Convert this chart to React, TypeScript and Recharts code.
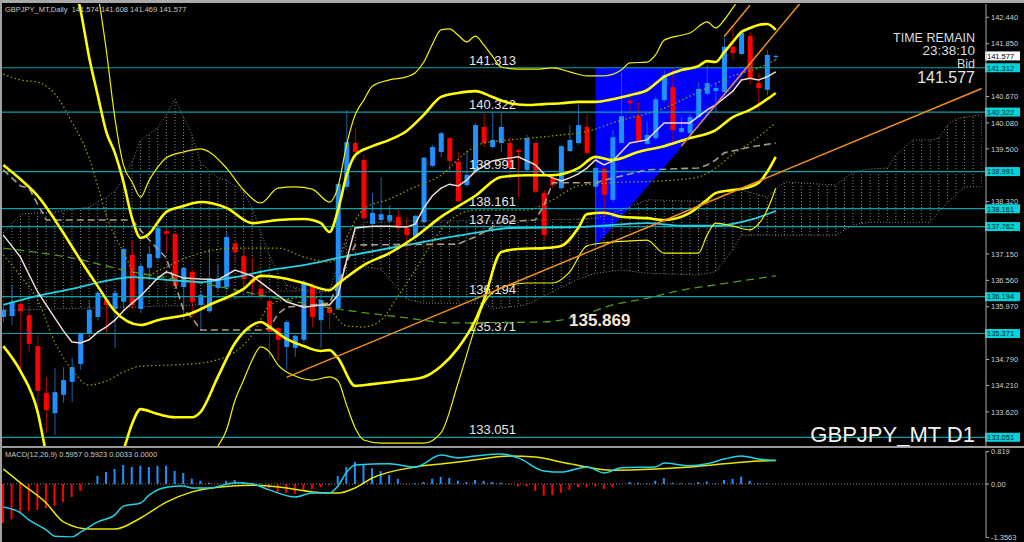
import React from 'react';
import { ComposedChart, Bar, Line, Area, XAxis, YAxis, ReferenceLine, Cell } from 'recharts';

// ---------------- data ----------------
const priceOpen = [135.74,135.76,136.03,135.78,135.09,134.04,133.59,134.00,134.29,134.69,
135.36,135.74,136.12,135.92,136.08,137.13,135.92,136.84,137.06,137.66,
137.60,136.41,136.75,136.01,135.87,136.39,136.41,137.39,137.10,136.57,
136.37,136.10,135.49,135.07,135.05,135.23,136.41,135.67,135.96,135.94,
138.65,139.63,139.25,137.82,137.91,137.89,137.98,137.73,137.53,137.86,
139.12,139.43,139.74,139.21,138.69,138.98,139.99,139.54,139.63,139.63,
139.47,139.03,139.63,138.51,138.85,138.62,139.45,139.63,139.99,138.65,
139.05,138.36,139.63,140.57,140.23,139.61,139.74,140.59,140.88,139.88,
139.85,140.21,140.73,140.79,140.77,141.78,141.62,142.02,140.97,140.82,141.574];
const priceHigh = [135.96,136.46,136.12,135.96,135.34,134.40,134.60,134.62,134.82,135.40,
136.12,136.30,136.19,136.34,137.28,137.46,136.95,137.31,137.75,137.69,
137.62,136.86,136.79,136.34,137.24,136.90,137.64,137.46,137.26,137.06,
136.63,136.19,135.52,135.67,135.34,136.57,136.50,136.28,136.05,138.74,
140.37,139.96,139.36,138.51,138.87,138.24,138.18,137.98,138.02,139.32,
139.59,139.88,139.76,139.43,139.47,140.08,140.30,140.30,140.30,139.76,
139.50,139.81,139.65,138.58,138.92,139.59,140.03,140.48,140.30,139.09,
139.07,139.92,141.20,140.66,140.55,140.10,140.66,141.26,141.31,140.21,
140.26,140.99,141.37,140.99,142.00,142.22,142.16,142.11,141.20,141.71,141.608];
const priceLow = [135.63,135.56,134.56,134.94,133.51,133.15,133.10,133.82,133.84,134.56,
135.29,135.67,135.38,135.05,135.90,135.90,135.83,136.68,137.01,137.19,
136.41,135.67,135.74,135.45,135.83,136.34,136.34,136.95,136.34,136.28,
136.12,134.85,134.78,134.56,134.85,135.16,135.52,135.05,135.45,135.90,
138.58,139.25,137.91,137.80,137.86,137.86,137.69,137.24,137.51,137.84,
139.09,139.32,138.98,138.31,138.65,138.96,139.54,139.52,139.43,138.80,
138.42,138.98,138.51,137.46,138.62,138.58,139.43,139.59,139.36,137.31,
137.98,138.31,139.63,140.30,139.63,139.59,139.70,140.55,139.65,139.85,
139.81,140.19,140.70,140.30,140.75,141.49,141.60,140.93,140.37,140.70,141.469];
const priceClose = [135.90,136.08,135.87,135.14,134.09,133.66,134.06,134.33,134.62,135.38,
135.90,136.28,136.01,136.28,137.26,136.01,136.88,137.15,137.73,137.60,
136.43,136.84,136.08,136.23,136.61,136.61,137.53,137.19,136.59,136.50,
136.19,135.41,135.23,135.63,135.32,136.50,135.74,136.12,135.83,138.71,
139.65,139.43,137.95,138.07,138.04,138.02,137.73,137.57,138.00,139.30,
139.54,139.85,139.23,138.33,138.92,140.03,139.63,139.70,139.99,139.07,
139.43,139.74,138.54,137.57,138.69,139.56,139.70,140.03,139.41,139.07,
138.47,139.76,140.23,140.52,139.68,139.81,140.61,141.15,139.92,139.97,
140.21,140.84,140.97,140.86,141.78,141.64,142.09,141.08,140.86,141.60,141.577];

// Bollinger-type bands, read as [bar index, price]
const bbMid = [[0,139.14],[2,138.82],[4,138.45],[7,137.62],[9,137.01],[11,136.43],[13,135.87],[16,135.56],[18,135.67],[22,135.83],[24,136.01],[28,136.37],[30,136.66],[32,136.63],[35,136.50],[38,136.34],[39,136.48],[40,136.63],[42,136.90],[45,137.17],[48,137.53],[51,137.98],[55,138.45],[58,138.87],[61,138.91],[64,138.91],[67,139.07],[69,139.32],[71,139.25],[74,139.43],[77,139.56],[80,139.74],[83,139.92],[85,140.21],[87,140.37],[89,140.61],[90,140.75]];
const bbUp3 = [[10,144.17],[11,143.01],[12,141.71],[13,140.19],[14,139.14],[15,138.76],[16,138.42],[17,138.80],[18,139.09],[19,139.30],[21,139.43],[23,139.50],[24,139.43],[26,139.07],[28,138.58],[30,138.29],[32,138.62],[34,138.65],[36,138.60],[38,138.31],[39,138.65],[40,139.59],[41,140.26],[42,140.59],[43,140.90],[45,141.04],[47,141.11],[48,141.20],[49,141.44],[50,141.84],[51,142.16],[52,142.18],[53,142.04],[54,141.89],[55,142.02],[56,141.82],[57,141.57],[58,141.33],[60,141.28],[62,141.28],[64,141.31],[66,141.22],[68,141.13],[70,141.13],[72,141.26],[73,141.42],[75,141.44],[76,141.60],[77,141.93],[79,142.04],[80,142.09],[82,142.34],[83,142.20],[84,142.38],[85,142.65],[86,142.94]];
const bbUp2 = [[8,143.39],[9,142.60],[10,141.55],[11,140.70],[12,139.88],[13,139.41],[14,138.76],[15,137.95],[16,137.51],[17,137.60],[18,137.86],[19,138.09],[21,138.22],[23,138.31],[26,138.18],[29,137.84],[32,137.91],[35,137.93],[37,137.84],[38,137.64],[39,138.13],[40,138.91],[41,139.36],[43,139.56],[45,139.70],[47,139.90],[49,140.26],[51,140.66],[53,140.75],[55,140.79],[57,140.66],[59,140.52],[61,140.48],[63,140.50],[65,140.52],[67,140.55],[69,140.55],[71,140.61],[73,140.70],[75,140.81],[77,141.11],[79,141.26],[81,141.35],[82,141.46],[83,141.44],[84,141.66],[85,141.89],[86,142.11],[87,142.20],[88,142.27],[89,142.29],[90,142.16]];
const bbLow2 = [[0,135.09],[2,134.53],[4,133.62],[5,132.70],[7,131.70],[9,131.40],[11,132.20],[13,132.40],[14,132.77],[15,133.35],[16,133.68],[18,133.57],[20,133.50],[22,133.50],[23,133.62],[25,134.40],[27,135.16],[29,135.56],[30,135.63],[31,135.52],[33,135.25],[35,135.09],[37,134.98],[38,135.00],[39,134.82],[41,134.20],[43,134.24],[46,134.31],[49,134.40],[51,134.64],[53,135.05],[55,135.67],[56,136.12],[58,137.19],[60,137.26],[63,137.28],[65,137.33],[67,137.73],[68,138.04],[70,138.07],[72,137.98],[75,137.95],[77,137.91],[80,138.07],[82,138.36],[83,138.51],[85,138.58],[87,138.65],[88,138.74],[89,138.98],[90,139.32]];
const bbLow3 = [[16,132.72],[20,132.14],[23,132.30],[25,132.85],[26,133.21],[27,133.88],[28,134.33],[29,134.78],[30,135.07],[31,134.96],[32,134.67],[34,134.42],[36,134.33],[38,134.40],[39,134.31],[40,133.77],[41,133.26],[42,132.99],[44,132.92],[47,132.92],[49,132.92],[51,133.15],[53,134.27],[55,135.52],[56,136.05],[58,136.39],[61,136.50],[64,136.50],[66,136.75],[68,137.33],[70,137.40],[73,137.44],[75,137.46],[77,137.17],[81,137.17],[82,137.57],[83,137.84],[85,137.77],[87,137.69],[88,137.82],[89,138.13],[90,138.62]];
const bbUp1 = [[0,141.17],[2,141.04],[4,140.99],[6,140.73],[8,140.10],[10,139.30],[11,138.67],[12,138.02],[14,137.19],[16,136.59],[18,136.77],[21,137.04],[24,137.22],[27,137.28],[32,137.28],[35,137.08],[38,136.97],[39,137.06],[40,137.51],[42,138.15],[45,138.38],[48,138.65],[51,138.91],[54,139.43],[56,139.63],[59,139.70],[64,139.79],[69,139.94],[71,140.08],[77,140.41],[81,140.77],[85,141.13],[88,141.31],[90,141.49]];
const bbLow1 = [[0,137.13],[2,136.66],[4,136.12],[6,135.18],[8,134.56],[10,134.22],[12,134.31],[14,134.51],[16,134.64],[20,134.67],[23,134.71],[27,134.96],[29,135.34],[31,135.99],[33,136.14],[36,136.19],[38,135.92],[40,135.54],[42,135.52],[44,135.67],[46,136.21],[48,136.79],[50,137.42],[52,137.89],[55,138.13],[61,138.13],[64,138.36],[67,138.67],[71,138.74],[78,138.80],[81,138.87],[83,139.07],[85,139.38],[87,139.63],[90,140.08]];

// Ichimoku-style lines
const tenkan = [[0,137.57],[2,137.08],[4,136.30],[6,135.72],[7,135.43],[8,135.18],[9,135.16],[10,135.23],[11,135.40],[12,135.52],[13,135.67],[14,135.88],[15,136.05],[16,136.21],[18,136.61],[19,136.75],[21,136.61],[23,136.59],[25,136.57],[27,136.79],[29,136.66],[31,136.37],[33,136.08],[35,135.96],[37,136.01],[38,136.01],[39,136.23],[40,137.01],[41,137.73],[43,137.77],[45,137.77],[47,137.75],[48,137.82],[49,138.18],[50,138.45],[51,138.62],[52,138.71],[53,138.67],[54,138.80],[55,139.00],[56,139.12],[57,139.23],[58,139.27],[60,139.32],[62,139.14],[63,138.94],[64,138.85],[65,138.78],[66,138.85],[67,138.94],[68,139.07],[69,139.25],[70,139.14],[71,139.23],[72,139.43],[73,139.63],[75,139.70],[77,140.08],[79,140.08],[80,140.08],[82,140.37],[83,140.48],[85,140.79],[86,141.04],[87,141.08],[88,141.04],[89,141.11],[90,141.22]];
const kijun = [[0,139.03],[2,138.67],[3,138.62],[5,137.91],[15,137.91],[16,137.68],[17,137.46],[19,137.06],[21,135.90],[22,135.72],[23,135.45],[30,135.45],[31,135.49],[32,135.81],[33,135.96],[38,136.05],[39,136.46],[40,136.97],[41,137.35],[53,137.37],[54,137.46],[55,137.53],[56,137.64],[57,137.75],[58,137.86],[62,137.91],[63,138.24],[64,138.74],[69,138.74],[70,138.80],[75,139.03],[81,139.07],[82,139.14],[83,139.25],[84,139.41],[87,139.54],[90,139.63]];
const maCyan = [[0,136.01],[4,136.21],[8,136.37],[12,136.55],[15,136.63],[19,136.57],[23,136.52],[27,136.63],[31,136.79],[35,136.90],[39,137.06],[47,137.35],[55,137.62],[59,137.73],[67,137.75],[75,137.84],[79,137.78],[83,137.78],[87,137.91],[90,138.11]];
const maGreen = [[0,137.28],[8,137.06],[15,136.75],[23,136.50],[31,136.19],[39,135.92],[47,135.72],[52,135.61],[63,135.63],[67,135.76],[71,136.01],[75,136.16],[79,136.34],[83,136.46],[90,136.66]];
// cloud: [bar index, span A, span B]
const cloudSpans = [[0,137.62,135.90],[2,138.04,135.90],[6,138.09,135.92],[10,138.20,135.94],[12,138.42,135.94],[13,138.54,135.96],[15,139.21,135.96],[16,139.70,135.96],[18,139.97,135.99],[19,140.26,135.99],[20,140.61,135.99],[21,140.21,135.99],[22,139.81,136.01],[23,139.18,136.01],[25,138.85,136.08],[26,138.80,136.12],[28,138.54,136.19],[29,138.18,136.23],[30,137.64,136.30],[31,137.13,136.30],[32,136.73,136.32],[33,136.46,136.32],[36,136.28,136.34],[38,136.32,136.34],[40,136.61,137.42],[42,136.86,137.86],[44,136.81,137.86],[47,136.14,137.89],[49,136.05,137.89],[56,136.05,137.89],[57,135.92,137.89],[61,136.01,137.91],[63,136.21,137.91],[67,136.59,137.93],[69,136.72,137.95],[72,136.79,138.13],[75,136.72,138.36],[81,136.68,138.33],[83,136.75,138.36],[85,137.24,138.56],[86,137.57,138.58],[88,137.57,138.47],[89,137.57,138.42],[91,137.57,138.76],[97,137.57,138.69],[99,137.80,138.98],[101,137.86,139.05],[103,137.86,139.07],[104,137.86,139.36],[106,137.86,139.70],[108,137.86,139.70],[109,138.09,139.74],[110,138.29,140.03],[111,138.47,140.17],[112,138.65,140.21],[114,138.65,140.26]];

const levelValues = [141.313, 140.322, 138.991, 138.161, 137.762, 136.194, 135.371, 133.051];
const levelTexts = ['141.313', '140.322', '138.991', '138.161', '137.762', '136.194', '135.371', '133.051'];
const levelAxisTexts = ['141.312', '140.322', '138.991', '138.161', '137.762', '136.194', '135.371', '133.051'];
const bidPrice = 141.577;
const markValue = 135.869;
const priceTicks = [142.44, 141.85, 140.67, 140.08, 139.5, 138.32, 137.15, 136.56, 135.97, 134.79, 134.21, 133.62];
const trendSegments = [
  [[33, 134.39], [114, 140.85]],
  [[79, 139.56], [93, 142.79]],
  [[84, 142.01], [87, 142.71]],
];
const triangleEdges = [[69, 137.31, 141.31], [87, 141.31, 141.31]];

const macdHist = [-0.99,-0.89,-0.73,-0.68,-0.66,-0.61,-0.56,-0.46,-0.33,-0.18,
0.02,0.20,0.30,0.38,0.48,0.43,0.46,0.43,0.46,0.46,
0.33,0.28,0.13,0.08,0.03,0.01,0.08,0.10,0.05,0.03,
0.01,-0.10,-0.20,-0.23,-0.25,-0.15,-0.13,-0.08,-0.03,0.20,
0.43,0.56,0.48,0.40,0.33,0.23,0.13,-0.02,0.02,0.05,
0.13,0.18,0.15,0.08,0.05,0.10,0.08,0.05,0.03,-0.02,
-0.06,-0.06,-0.17,-0.30,-0.28,-0.22,-0.15,-0.08,-0.08,-0.06,
-0.13,-0.08,0.0,0.05,0.03,0.02,0.08,0.15,0.03,0.02,
0.02,0.05,0.06,0.02,0.10,0.13,0.18,0.08,0.02,0.02,0.0033];
const macdMain = [[0,-0.58],[2,-0.73],[3,-0.91],[5,-1.16],[6,-1.32],[8,-1.34],[9,-1.22],[11,-0.96],[13,-0.78],[14,-0.56],[16,-0.48],[17,-0.28],[19,-0.08],[21,-0.05],[22,-0.10],[24,-0.10],[27,0.03],[29,0.00],[31,-0.15],[34,-0.33],[36,-0.23],[38,-0.23],[39,-0.05],[40,0.30],[41,0.48],[45,0.51],[48,0.43],[51,0.73],[53,0.66],[55,0.71],[58,0.76],[60,0.66],[63,0.33],[65,0.30],[68,0.43],[70,0.28],[72,0.41],[76,0.43],[77,0.53],[80,0.46],[82,0.51],[84,0.63],[86,0.71],[88,0.63],[90,0.5957]];
const macdSignal = [[0,0.38],[2,0.03],[5,-0.48],[7,-0.96],[10,-1.14],[13,-1.14],[16,-0.86],[19,-0.46],[22,-0.20],[25,-0.08],[29,-0.03],[33,-0.10],[36,-0.20],[39,-0.23],[41,-0.10],[43,0.15],[48,0.43],[52,0.53],[55,0.61],[59,0.71],[62,0.68],[66,0.51],[71,0.35],[76,0.38],[80,0.43],[84,0.51],[88,0.58],[90,0.5923]];
const macdTicks = [0.819, 0, -1.3563];
const macdTickTexts = ['0.819', '0.00', '-1.3563'];

// ---------------- layout ----------------
const N_SLOTS = 115;
const CHART_W = 1025;
const AXIS_W = 38;
const PLOT_W = CHART_W - AXIS_W;
const BAND = PLOT_W / N_SLOTS;
const SANS = "'Liberation Sans', Arial, sans-serif";
const PRICE_DOMAIN: [number, number] = [132.856, 142.738];
const MACD_DOMAIN: [number, number] = [-1.3563, 0.819];

function buildRows() {
  const rows: any[] = [];
  for (let k = 0; k < N_SLOTS; k++) rows.push({ i: k });
  priceOpen.forEach((o, k) => {
    rows[k].o = o;
    rows[k].h = priceHigh[k];
    rows[k].l = priceLow[k];
    rows[k].c = priceClose[k];
    rows[k].range = [priceLow[k], priceHigh[k]];
  });
  const put = (key: string, pts: number[][]) => pts.forEach(([k, v]) => { rows[k][key] = v; });
  put('mid', bbMid); put('up3', bbUp3); put('up2', bbUp2); put('low2', bbLow2); put('low3', bbLow3);
  put('up1', bbUp1); put('low1', bbLow1); put('tenkan', tenkan); put('kijun', kijun);
  put('maCyan', maCyan); put('maGreen', maGreen);
  cloudSpans.forEach(([k, a, b]) => {
    rows[k].spanA = a; rows[k].spanB = b; rows[k].cloud = [Math.min(a, b), Math.max(a, b)];
  });
  triangleEdges.forEach(([k, lo, hi]) => { rows[k].tri = [lo, hi]; });
  return rows;
}

function buildMacdRows() {
  const rows: any[] = [];
  for (let k = 0; k < N_SLOTS; k++) rows.push({ i: k });
  macdHist.forEach((v, k) => { rows[k].hist = v; });
  macdMain.forEach(([k, v]) => { rows[k].macd = v; });
  macdSignal.forEach(([k, v]) => { rows[k].signal = v; });
  return rows;
}

const rows = buildRows();
const macdRows = buildMacdRows();

function CandleShape(props: any) {
  const { x, y, width, height, payload } = props;
  if (!payload || payload.o == null || x == null) return null;
  const { o, h, l, c } = payload;
  const top = Math.min(y, y + height);
  const bot = Math.max(y, y + height);
  const span = h - l;
  const py = (v: number) => (span > 0 ? top + ((h - v) / span) * (bot - top) : top);
  const cx = x + width / 2;
  const up = c >= o;
  const bTop = py(Math.max(o, c));
  const bBot = py(Math.min(o, c));
  const bw = 5;
  return (
    <g>
      <line x1={cx} x2={cx} y1={top} y2={bot} stroke={up ? '#1d62b0' : '#b40000'} strokeWidth={1} />
      <rect x={cx - bw / 2} y={bTop} width={bw} height={Math.max(1, bBot - bTop)} fill={up ? '#1e90ff' : '#ff0000'} />
    </g>
  );
}

function PriceTick(props: any) {
  const { x, y, payload } = props;
  return (
    <g>
      <line x1={x} x2={x + 3} y1={y} y2={y} stroke="#b0b0b0" />
      <text x={x + 5} y={y + 2.7} fill="#cfcfcf" fontSize={7.5} fontFamily={SANS}>{Number(payload.value).toFixed(3)}</text>
    </g>
  );
}

function MacdTick(props: any) {
  const { x, y, payload, index } = props;
  const t = macdTickTexts[macdTicks.indexOf(payload.value)] ?? macdTickTexts[index] ?? '';
  return (
    <g>
      <line x1={x} x2={x + 3} y1={y} y2={y} stroke="#b0b0b0" />
      <text x={x + 5} y={y + 2.7} fill="#cfcfcf" fontSize={7.5} fontFamily={SANS}>{t}</text>
    </g>
  );
}

function LevelLabel(props: any) {
  const { viewBox, text, axisText } = props;
  if (!viewBox) return null;
  const y = viewBox.y;
  const right = viewBox.x + viewBox.width;
  return (
    <g>
      <text x={470} y={y - 3} fill="#e6e6e6" fontSize={13} fontFamily={SANS}>{text}</text>
      <rect x={right - 1} y={y - 4.5} width={35} height={9} fill="#00d3da" />
      <text x={right + 1} y={y + 2.8} fill="#00262b" fontSize={7.5} fontFamily={SANS}>{axisText}</text>
    </g>
  );
}

function BidLabel(props: any) {
  const { viewBox } = props;
  if (!viewBox) return null;
  const y = viewBox.y;
  const right = viewBox.x + viewBox.width;
  return (
    <g>
      <rect x={right - 1} y={y - 4.5} width={35} height={9} fill="#ffffff" />
      <text x={right + 1} y={y + 2.8} fill="#000000" fontSize={7.5} fontFamily={SANS}>{bidPrice.toFixed(3)}</text>
    </g>
  );
}

function MarkLabel(props: any) {
  const { viewBox } = props;
  if (!viewBox) return null;
  return (
    <text x={570} y={viewBox.y + 15} fill="#f6e6d6" fontSize={17} fontWeight="bold" fontFamily={SANS}>{markValue.toFixed(3)}</text>
  );
}

const lineBase = { dot: false, activeDot: false, isAnimationActive: false, connectNulls: true } as const;

export default function App() {
  return (
    <div style={{ position: 'absolute', left: 0, top: 0, width: 1024, height: 542, background: '#000', overflow: 'hidden' }}>
      <svg width={0} height={0} style={{ position: 'absolute' }}>
        <defs>
          <pattern id="cloudHatch" patternUnits="userSpaceOnUse" x={0} y={0} width={BAND} height={3}>
            <rect x={BAND / 2 - 0.5} y={0} width={1} height={1} fill="#8a8a8a" />
          </pattern>
        </defs>
      </svg>

      <div style={{ position: 'absolute', left: -1, top: 0 }}>
        <ComposedChart width={CHART_W} height={448} data={rows} margin={{ top: 4, right: 0, bottom: 2, left: 0 }} barCategoryGap={0} barGap={0}>
          <XAxis dataKey="i" type="category" hide />
          <YAxis orientation="right" width={AXIS_W} domain={PRICE_DOMAIN} allowDataOverflow ticks={priceTicks} interval={0}
            tickSize={0} tickMargin={0} tickLine={false} axisLine={{ stroke: '#a8a8a8' }} tick={<PriceTick />} />

          {levelValues.map((v, n) => (
            <ReferenceLine key={'lv' + n} y={v} stroke="#06a2ab" strokeWidth={1.2}
              label={(p: any) => <LevelLabel {...p} text={levelTexts[n]} axisText={levelAxisTexts[n]} />} />
          ))}
          <ReferenceLine y={bidPrice} stroke="none" strokeOpacity={0} label={(p: any) => <BidLabel {...p} />} />

          <Area dataKey="tri" type="linear" fill="#0000ff" fillOpacity={1} stroke="none" connectNulls isAnimationActive={false} />
          <Area dataKey="cloud" type="linear" fill="url(#cloudHatch)" fillOpacity={1} stroke="none" connectNulls isAnimationActive={false} />
          <Line dataKey="spanA" type="linear" stroke="#8a8a8a" strokeWidth={1} strokeDasharray="1 2" {...lineBase} />
          <Line dataKey="spanB" type="linear" stroke="#8a8a8a" strokeWidth={1} strokeDasharray="1 2" {...lineBase} />

          <Bar dataKey="range" shape={(p: any) => <CandleShape {...p} />} isAnimationActive={false} />

          <Line dataKey="maGreen" type="monotone" stroke="#4f9a1f" strokeWidth={1.3} strokeDasharray="8 5" {...lineBase} />
          <Line dataKey="maCyan" type="monotone" stroke="#22d3e6" strokeWidth={1.8} {...lineBase} />
          <Line dataKey="kijun" type="linear" stroke="#a89a8c" strokeWidth={1.6} strokeDasharray="7 4" {...lineBase} />
          <Line dataKey="up1" type="monotone" stroke="#a0a000" strokeWidth={1.2} strokeDasharray="1.5 2.5" {...lineBase} />
          <Line dataKey="low1" type="monotone" stroke="#a0a000" strokeWidth={1.2} strokeDasharray="1.5 2.5" {...lineBase} />
          <Line dataKey="tenkan" type="linear" stroke="#f0dcd2" strokeWidth={1.5} {...lineBase} />
          <Line dataKey="up3" type="monotone" stroke="#f2f200" strokeWidth={1.2} {...lineBase} />
          <Line dataKey="low3" type="monotone" stroke="#f2f200" strokeWidth={1.2} {...lineBase} />
          <Line dataKey="up2" type="monotone" stroke="#ffff00" strokeWidth={2.6} {...lineBase} />
          <Line dataKey="low2" type="monotone" stroke="#ffff00" strokeWidth={2.6} {...lineBase} />
          <Line dataKey="mid" type="monotone" stroke="#ffff00" strokeWidth={2.6} {...lineBase} />

          {trendSegments.map((s, n) => (
            <ReferenceLine key={'tr' + n} segment={[{ x: s[0][0], y: s[0][1] }, { x: s[1][0], y: s[1][1] }]}
              stroke="#ee8f1f" strokeWidth={1.5} ifOverflow="hidden" />
          ))}
          <ReferenceLine y={markValue} stroke="none" strokeOpacity={0} label={(p: any) => <MarkLabel {...p} />} />
        </ComposedChart>
      </div>

      <div style={{ position: 'absolute', left: -1, top: 448 }}>
        <ComposedChart width={CHART_W} height={94} data={macdRows} margin={{ top: 3.6, right: 0, bottom: 4.4, left: 0 }} barCategoryGap={0}>
          <XAxis dataKey="i" type="category" hide />
          <YAxis orientation="right" width={AXIS_W} domain={MACD_DOMAIN} allowDataOverflow ticks={macdTicks} interval={0}
            tickSize={0} tickMargin={0} tickLine={false} axisLine={{ stroke: '#a8a8a8' }} tick={<MacdTick />} />
          <ReferenceLine y={0} stroke="#8a8a8a" strokeDasharray="1 2" />
          <Bar dataKey="hist" barSize={2} isAnimationActive={false}>
            {macdRows.map((r, k) => (
              <Cell key={k} fill={(r.hist ?? 0) >= 0 ? '#1e90ff' : '#ff0000'} />
            ))}
          </Bar>
          <Line dataKey="signal" type="monotone" stroke="#e6e600" strokeWidth={1.5} {...lineBase} />
          <Line dataKey="macd" type="monotone" stroke="#22d3e6" strokeWidth={1.5} {...lineBase} />
        </ComposedChart>
      </div>

      {/* frame */}
      <div style={{ position: 'absolute', left: 0, top: 0, width: 1024, height: 3, background: '#a9a9a9' }} />
      <div style={{ position: 'absolute', left: 0, top: 0, width: 2, height: 542, background: '#a0a0a0' }} />
      <div style={{ position: 'absolute', left: 0, top: 446, width: 1024, height: 2, background: '#9a9a9a' }} />

      {/* texts */}
      <div style={{ position: 'absolute', left: 5, top: 5, fontFamily: SANS, fontSize: 7.5, lineHeight: '9px', color: '#c8c8c8', whiteSpace: 'pre' }}>
        GBPJPY_MT,Daily  141.574 141.608 141.469 141.577
      </div>
      <div style={{ position: 'absolute', left: 5, top: 450, fontFamily: SANS, fontSize: 7.5, lineHeight: '9px', color: '#c8c8c8', whiteSpace: 'pre' }}>
        MACD(12,26,9) 0.5957 0.5923 0.0033 0.0000
      </div>
      <div style={{ position: 'absolute', right: 49, top: 32, fontFamily: SANS, fontSize: 12.5, lineHeight: '12px', color: '#dcdcdc', textAlign: 'right', whiteSpace: 'nowrap' }}>TIME REMAIN</div>
      <div style={{ position: 'absolute', right: 49, top: 44, fontFamily: SANS, fontSize: 13.5, lineHeight: '13px', color: '#dcdcdc', textAlign: 'right', whiteSpace: 'nowrap' }}>23:38:10</div>
      <div style={{ position: 'absolute', right: 49, top: 58, fontFamily: SANS, fontSize: 12.5, lineHeight: '12px', color: '#dcdcdc', textAlign: 'right', whiteSpace: 'nowrap' }}>Bid</div>
      <div style={{ position: 'absolute', right: 49, top: 70, fontFamily: SANS, fontSize: 16, lineHeight: '15px', color: '#e6e6e6', textAlign: 'right', whiteSpace: 'nowrap' }}>141.577</div>
      <div style={{ position: 'absolute', right: 49, top: 424, fontFamily: SANS, fontSize: 22, lineHeight: '22px', color: '#f2f2f2', textAlign: 'right', whiteSpace: 'nowrap' }}>GBPJPY_MT D1</div>
    </div>
  );
}
